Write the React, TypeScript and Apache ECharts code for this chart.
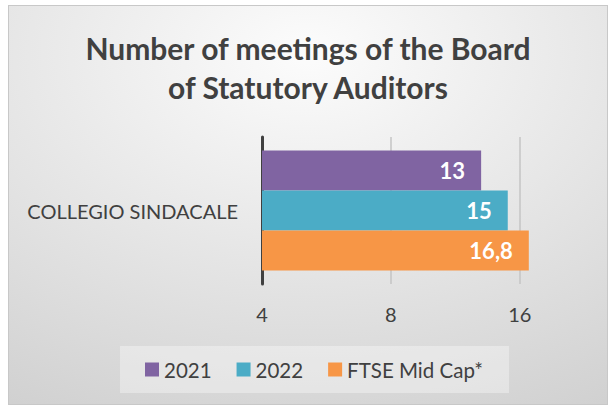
import React, { useEffect, useRef } from "react";
import * as echarts from "echarts";

const categories = ["COLLEGIO SINDACALE"];
const seriesNames = ["2021", "2022", "FTSE Mid Cap*"];
const values2021 = [13];
const values2022 = [15];
const valuesFtse = [16.8];
const colors = ["#8064a2", "#4bacc6", "#f79646"];
const FONT = "Lato, 'Open Sans', sans-serif";

export default function App() {
  const ref = useRef<HTMLDivElement>(null);
  useEffect(() => {
    if (!ref.current) return;
    const chart = echarts.init(ref.current, null, { renderer: "svg" });
    const label = {
      show: true,
      position: "insideRight",
      distance: 16,
      color: "#ffffff",
      fontWeight: "bold",
      fontSize: 22,
      fontFamily: FONT,
      formatter: (p: any) => String(p.value).replace(".", ","),
    };
    const allValues = [values2021, values2022, valuesFtse];
    chart.setOption({
      animation: false,
      backgroundColor: {
        type: "radial",
        x: 0.5,
        y: 0.12,
        r: 1.05,
        colorStops: [
          { offset: 0, color: "#fcfcfc" },
          { offset: 1, color: "#cfcfcf" },
        ],
      },
      title: {
        text: "Number of meetings of the Board\nof Statutory Auditors",
        left: "center",
        top: 17,
        textStyle: {
          fontFamily: FONT,
          fontWeight: "bold",
          fontSize: 30,
          lineHeight: 39,
          color: "#404040",
        },
      },
      legend: {
        data: seriesNames,
        left: 111,
        top: 340,
        padding: [13, 26, 13, 25],
        backgroundColor: "rgba(255,255,255,0.35)",
        itemWidth: 14,
        itemHeight: 14,
        itemGap: 25,
        icon: "rect",
        textStyle: { fontFamily: FONT, fontSize: 20.5, color: "#404040" },
      },
      grid: { left: 253, top: 131, width: 269, height: 147 },
      xAxis: {
        type: "log",
        logBase: 2,
        min: 4,
        max: 17,
        axisLine: { show: false },
        axisTick: { show: false },
        axisLabel: {
          showMaxLabel: false,
          margin: 20,
          fontSize: 20,
          fontFamily: FONT,
          color: "#404040",
        },
        splitLine: {
          show: true,
          lineStyle: {
            color: ["#c4c4c4", "#c4c4c4", "#c4c4c4", "rgba(0,0,0,0)"],
            width: 1.5,
          },
        },
      },
      yAxis: {
        type: "category",
        data: categories,
        axisLine: { show: true, lineStyle: { color: "#404040", width: 3 } },
        axisTick: { show: false },
        axisLabel: {
          margin: 24,
          fontSize: 20,
          fontFamily: FONT,
          color: "#404040",
        },
      },
      series: seriesNames.map((name, i) => ({
        name,
        type: "bar",
        data: allValues[i],
        barWidth: 40,
        barGap: "0%",
        itemStyle: { color: colors[i] },
        label,
      })),
    });
    return () => chart.dispose();
  }, []);
  return (
    <div
      style={{
        position: "absolute",
        left: 8,
        top: 5,
        width: 600,
        height: 400,
        boxSizing: "border-box",
        border: "1px solid #c8c8c8",
      }}
    >
      <div ref={ref} style={{ width: 598, height: 398 }} />
    </div>
  );
}
